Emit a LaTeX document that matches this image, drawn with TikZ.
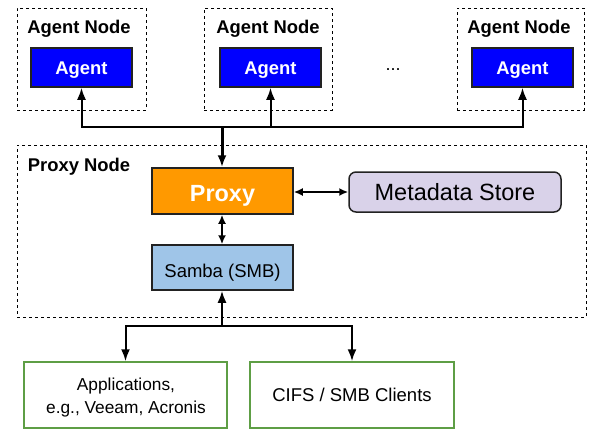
\documentclass[tikz,border=0pt]{standalone}
\usepackage{fontspec}
\setmainfont{Liberation Sans}
\usetikzlibrary{arrows.meta}
\definecolor{agentblue}{HTML}{0000FF}
\definecolor{proxyorange}{HTML}{FF9900}
\definecolor{metalav}{HTML}{D9D2E9}
\definecolor{sambablue}{HTML}{9FC5E8}
\definecolor{clientgreen}{HTML}{5E9E45}
\definecolor{edgedark}{HTML}{222222}
\begin{document}
\begin{tikzpicture}[x=1pt,y=-1pt,
  groupbox/.style={draw=black, dashed, line width=0.9pt, inner sep=0pt},
  grouplabel/.style={font=\fontsize{18.4}{21}\selectfont\bfseries, inner sep=0pt},
  agentbox/.style={draw=edgedark, line width=1.5pt, fill=agentblue, text=white,
    minimum width=101pt, minimum height=39pt, inner sep=0pt,
    text height=13.5pt, text depth=0pt,
    font=\fontsize{18.4}{21}\selectfont\bfseries},
  proxybox/.style={draw=edgedark, line width=1.5pt, fill=proxyorange, text=white,
    minimum width=141pt, minimum height=46pt, inner sep=0pt,
    text height=20pt, text depth=0pt,
    font=\fontsize{23.4}{26}\selectfont\bfseries},
  metabox/.style={draw=edgedark, line width=1.5pt, fill=metalav, rounded corners=7pt,
    minimum width=212pt, minimum height=40pt, inner sep=0pt,
    text height=16pt, text depth=0pt,
    font=\fontsize{23.5}{26}\selectfont},
  sambabox/.style={draw=edgedark, line width=1.5pt, fill=sambablue,
    minimum width=141pt, minimum height=45pt, inner sep=0pt,
    text height=19pt, text depth=0pt,
    font=\fontsize{18.5}{21}\selectfont},
  clientbox/.style={draw=clientgreen, line width=1.5pt, fill=white,
    minimum height=66pt, inner sep=0pt, align=center},
  conn/.style={line width=2pt, draw=black},
  bigtip/.style={-{Latex[length=12pt,width=9pt]}},
  dbltip/.style={{Latex[length=9pt,width=8pt]}-{Latex[length=9pt,width=8pt]}},
]
\useasboundingbox (0,0) rectangle (605,445);

% Agent node groups
\node[groupbox, minimum width=129pt, minimum height=102pt] (an1) at (81.5,59) {};
\node[groupbox, minimum width=128pt, minimum height=102pt] (an2) at (268,59) {};
\node[groupbox, minimum width=127pt, minimum height=102pt] (an3) at (520.5,59) {};
\node[grouplabel] (an1l) at (79,29) {Agent Node};
\node[grouplabel] (an2l) at (268,29) {Agent Node};
\node[grouplabel] (an3l) at (519,29) {Agent Node};
\node[agentbox] (ag1) at (81.5,67.5) {Agent};
\node[agentbox] (ag2) at (270.5,67.5) {Agent};
\node[agentbox] (ag3) at (522.5,67.5) {Agent};
\node[font=\fontsize{18}{21}\selectfont, inner sep=0pt] (dots) at (393,70) {...};

% Proxy node group
\node[groupbox, minimum width=569pt, minimum height=172pt] (pn) at (301.5,231) {};
\node[grouplabel] (pnl) at (79,167) {Proxy Node};
\node[proxybox] (proxy) at (222.5,191) {Proxy};
\node[metabox] (meta) at (455,192) {Metadata Store};
\node[sambabox] (samba) at (222.5,267.5) {Samba (SMB)};

% Clients
\node[clientbox, minimum width=203pt] (app) at (125.5,395) {};
\node[inner sep=0pt, align=center, font=\fontsize{17.3}{23}\selectfont] (apptext) at (126,398) {Applications,\\e.g., Veeam, Acronis};
\node[clientbox, minimum width=204pt, font=\fontsize{18.5}{22}\selectfont] (cifs) at (352,395) {CIFS / SMB Clients};

% Connectors
\coordinate (j) at (222,127);
\coordinate (s) at (222,326);
\draw[conn, bigtip, line width=3pt] (j) -- (proxy.north -| j);
\draw[conn, bigtip] (j) -| (ag1.south);
\draw[conn, bigtip] (j) -| (ag2.south);
\draw[conn, bigtip] (j) -| (ag3.south);
\draw[conn, dbltip] (proxy.east |- meta.west) -- (meta.west);
\draw[conn, dbltip] (proxy.south -| j) -- (samba.north -| j);
\draw[conn, bigtip] (s) -- (samba.south -| s);
\draw[conn, bigtip] (s) -| (app.north);
\draw[conn, bigtip] (s) -| (cifs.north);
\end{tikzpicture}
\end{document}
